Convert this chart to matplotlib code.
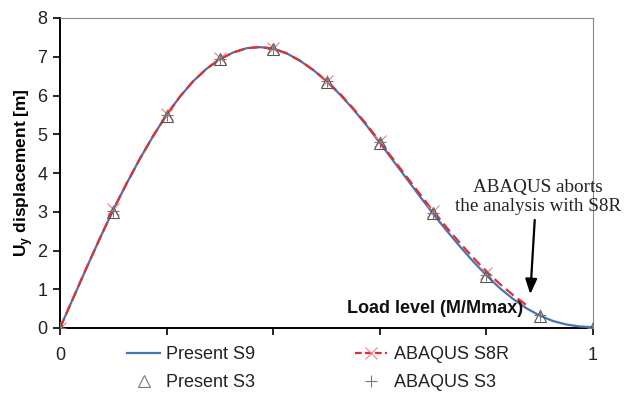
import matplotlib
matplotlib.use("Agg")
import matplotlib.pyplot as plt
from matplotlib.lines import Line2D

plt.rcParams["font.family"] = ["Liberation Sans", "DejaVu Sans"]
plt.rcParams["mathtext.fontset"] = "custom"
plt.rcParams["mathtext.rm"] = "Liberation Sans"
plt.rcParams["mathtext.bf"] = "Liberation Sans:bold"

# ---- data ----
s9_x = [0.0, 0.025, 0.05, 0.075, 0.1, 0.125, 0.15, 0.175, 0.2, 0.225, 0.25, 0.275,
        0.3, 0.325, 0.35, 0.375, 0.4, 0.425, 0.45, 0.475, 0.5, 0.525, 0.55, 0.575,
        0.6, 0.625, 0.65, 0.675, 0.7, 0.725, 0.75, 0.775, 0.8, 0.825, 0.85, 0.875,
        0.9, 0.925, 0.95, 0.975, 1.0]
s9_y = [0.0, 0.78, 1.56, 2.32, 3.05, 3.73, 4.37, 4.96, 5.5, 5.97, 6.37, 6.69,
        6.94, 7.11, 7.22, 7.25, 7.21, 7.09, 6.9, 6.66, 6.37, 6.03, 5.65, 5.23,
        4.78, 4.32, 3.86, 3.4, 2.95, 2.52, 2.11, 1.72, 1.36, 1.03, 0.75, 0.51,
        0.32, 0.18, 0.09, 0.04, 0.02]

s8r_x = [0.0, 0.025, 0.05, 0.075, 0.1, 0.125, 0.15, 0.175, 0.2, 0.225, 0.25, 0.275,
         0.3, 0.325, 0.35, 0.375, 0.4, 0.425, 0.45, 0.475, 0.5, 0.525, 0.55, 0.575,
         0.6, 0.625, 0.65, 0.675, 0.7, 0.725, 0.75, 0.775, 0.8, 0.825, 0.85, 0.876]
s8r_y = [0.0, 0.78, 1.56, 2.32, 3.05, 3.73, 4.37, 4.96, 5.5, 5.97, 6.37, 6.69,
         6.94, 7.11, 7.22, 7.25, 7.21, 7.09, 6.9, 6.66, 6.38, 6.05, 5.67, 5.26,
         4.81, 4.36, 3.91, 3.46, 3.02, 2.6, 2.2, 1.82, 1.46, 1.14, 0.85, 0.58]
s8r_mx = [0.0, 0.1, 0.2, 0.3, 0.4, 0.5, 0.6, 0.7, 0.8]
s8r_my = [0.0, 3.08, 5.52, 6.97, 7.22, 6.38, 4.82, 3.02, 1.42]

s3_x = [0.0, 0.1, 0.2, 0.3, 0.4, 0.5, 0.6, 0.7, 0.8, 0.9, 1.0]
s3_y = [0.0, 3.0, 5.48, 6.93, 7.2, 6.36, 4.78, 2.96, 1.35, 0.32, 0.0]

abq_s3_x = [0.0, 0.1, 0.2, 0.3, 0.4, 0.5, 0.6, 0.7, 0.8, 0.9, 1.0]
abq_s3_y = [0.0, 3.02, 5.5, 6.95, 7.2, 6.37, 4.79, 2.97, 1.36, 0.33, 0.0]

legend_labels = ["Present S9", "ABAQUS S8R", "Present S3", "ABAQUS S3"]

# ---- figure ----
fig = plt.figure(figsize=(6.25, 3.95), dpi=100)
ax = fig.add_axes([60/625, 1-328/395, (593-60)/625, (328-18)/395])

blue = "#4a72b8"
red = "#e0302e"
dash = (0, (4.5, 2.3))

ax.plot(s9_x, s9_y, color=blue, lw=1.6, zorder=3)
ax.plot(s8r_x, s8r_y, color=red, lw=1.6, ls=dash, zorder=4)
ax.plot(s8r_mx, s8r_my, ls="none", marker="x", ms=8, mew=0.8, color="#f08080", zorder=5)
ax.plot(s3_x, s3_y, ls="none", marker="^", ms=8, mfc="none", mec="#555555", mew=0.8, zorder=6)
ax.plot(abq_s3_x, abq_s3_y, ls="none", marker="+", ms=8, mew=0.8, color="#777777", zorder=6)

ax.set_xlim(0, 1)
ax.set_ylim(0, 8)
ax.set_yticks(range(0, 9))
ax.set_xticks([0, 0.2, 0.4, 0.6, 0.8, 1.0])
ax.set_xticklabels(["0", "", "", "", "", "1"])
ax.tick_params(axis="both", labelsize=13, direction="out", length=5, width=1.2, color="black",
               labelcolor="#222222")
ax.tick_params(axis="x", pad=9)
ax.tick_params(axis="y", pad=4)

for s in ["left", "bottom"]:
    ax.spines[s].set_color("black")
    ax.spines[s].set_linewidth(1.4)
for s in ["top", "right"]:
    ax.spines[s].set_color("#888888")
    ax.spines[s].set_linewidth(0.8)

ax.set_ylabel(r"U$_\mathbf{y}$ displacement [m]", fontsize=12.5, fontweight="bold", labelpad=2)

ax.text(0.868, 0.5, "Load level (M/Mmax)", fontsize=13, fontweight="bold",
        ha="right", va="center", color="#111111")

ax.text(0.897, 3.38, "ABAQUS aborts\nthe analysis with S8R", fontsize=13.8,
        family="Liberation Serif", ha="center", va="center", linespacing=1.15,
        color="#222222")
ax.annotate("", xy=(0.882, 0.8), xytext=(0.891, 2.86),
            arrowprops=dict(arrowstyle="-|>,head_width=0.35,head_length=0.9",
                            color="black", lw=1.6))

handles = [
    Line2D([], [], color=blue, lw=1.6),
    Line2D([], [], ls="none", marker="^", ms=8, mfc="none", mec="#777777", mew=0.8),
    Line2D([], [], color=red, lw=1.6, ls=(0, (3, 1.5)), marker="x", ms=8, mew=0.8, mec="#f08080"),
    Line2D([], [], ls="none", marker="+", ms=8, mew=0.8, color="#777777"),
]
labels = [legend_labels[0], legend_labels[2], legend_labels[1], legend_labels[3]]
fig.legend(handles, labels, ncol=2, loc="center",
           bbox_to_anchor=(318/625, 1-368.5/395), frameon=False, fontsize=13,
           handlelength=1.8, handletextpad=0.35, columnspacing=5.5, labelspacing=0.62,
           labelcolor="#222222")

fig.savefig("out.png", dpi=100)
